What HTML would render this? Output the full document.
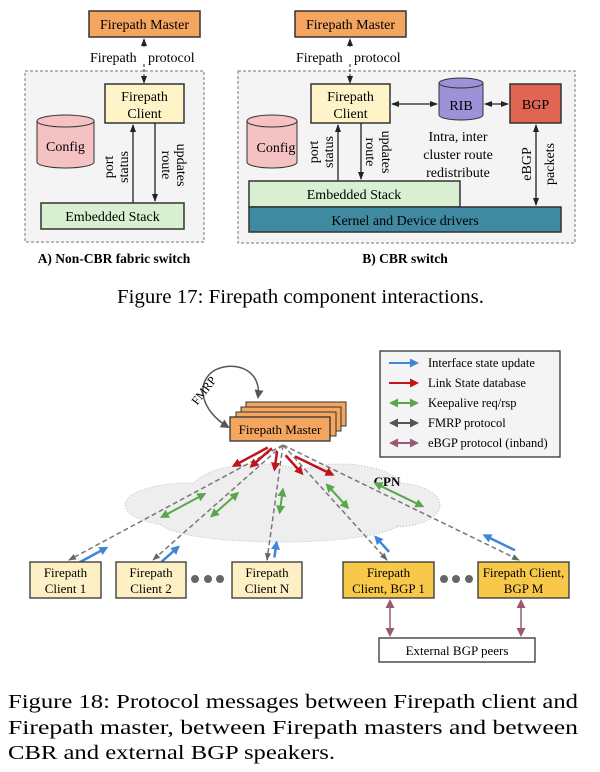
<!DOCTYPE html>
<html><head><meta charset="utf-8"><style>
html,body{margin:0;padding:0;background:#fff;}
svg{display:block;font-family:"Liberation Serif",serif;}
</style></head><body>
<svg id="s" width="600" height="772" viewBox="0 0 600 772" xmlns="http://www.w3.org/2000/svg">
<defs>
<marker id="ak" markerWidth="8" markerHeight="8" refX="7" refY="4" orient="auto-start-reverse" markerUnits="userSpaceOnUse"><path d="M0,1 L8,4 L0,7 z" fill="#222"/></marker>
<marker id="ag" markerWidth="8" markerHeight="8" refX="7" refY="4" orient="auto-start-reverse" markerUnits="userSpaceOnUse"><path d="M0,1 L8,4 L0,7 z" fill="#666"/></marker>
<marker id="ar" markerWidth="9" markerHeight="9" refX="7" refY="4.5" orient="auto-start-reverse" markerUnits="userSpaceOnUse"><path d="M0,0 L9,4.5 L0,9 z" fill="#c0141c"/></marker>
<marker id="ab" markerWidth="9" markerHeight="9" refX="7" refY="4.5" orient="auto-start-reverse" markerUnits="userSpaceOnUse"><path d="M0,0 L9,4.5 L0,9 z" fill="#3f86d8"/></marker>
<marker id="agr" markerWidth="9" markerHeight="9" refX="7" refY="4.5" orient="auto-start-reverse" markerUnits="userSpaceOnUse"><path d="M0,0 L9,4.5 L0,9 z" fill="#5aa64a"/></marker>
<marker id="ap" markerWidth="9" markerHeight="9" refX="7" refY="4.5" orient="auto-start-reverse" markerUnits="userSpaceOnUse"><path d="M0,0 L9,4.5 L0,9 z" fill="#9a5878"/></marker>
<marker id="agy" markerWidth="9" markerHeight="9" refX="7" refY="4.5" orient="auto-start-reverse" markerUnits="userSpaceOnUse"><path d="M0,0 L9,4.5 L0,9 z" fill="#555"/></marker>
</defs>

<!-- ===== Figure 17 A ===== -->
<rect x="25" y="71" width="179" height="171" fill="#f4f4f4" stroke="#777" stroke-dasharray="3,2"/>
<rect x="89" y="11" width="111" height="26" fill="#f4a661" stroke="#333" stroke-width="1.5"/>
<text x="144.5" y="29" font-size="14" text-anchor="middle">Firepath Master</text>
<line x1="144" y1="39" x2="144" y2="83" stroke="#222" stroke-dasharray="3,2" marker-start="url(#ak)" marker-end="url(#ak)"/>
<rect x="88" y="48" width="113" height="16" fill="#fff"/>
<text x="90" y="62" font-size="14">Firepath</text><text x="148" y="62" font-size="14">protocol</text>
<rect x="105" y="84" width="79" height="39" fill="#fff3c8" stroke="#333" stroke-width="1.5"/>
<text x="144.5" y="101" font-size="14" text-anchor="middle">Firepath</text>
<text x="144.5" y="118" font-size="14" text-anchor="middle">Client</text>
<path d="M37,121 L37,162 A28.5,6 0 0 0 94,162 L94,121" fill="#f4c2c2" stroke="#333"/>
<ellipse cx="65.5" cy="121" rx="28.5" ry="6" fill="#f4c2c2" stroke="#333"/>
<text x="65.5" y="151" font-size="14" text-anchor="middle">Config</text>
<line x1="133" y1="203" x2="133" y2="125" stroke="#222" stroke-width="1.3" marker-end="url(#ak)"/>
<line x1="155" y1="123" x2="155" y2="201" stroke="#222" stroke-width="1.3" marker-end="url(#ak)"/>
<text transform="translate(113,167) rotate(-90)" font-size="14" text-anchor="middle">port</text>
<text transform="translate(128,167) rotate(-90)" font-size="14" text-anchor="middle">status</text>
<text transform="translate(162,165) rotate(90)" font-size="14" text-anchor="middle">route</text>
<text transform="translate(177,165) rotate(90)" font-size="14" text-anchor="middle">updates</text>
<rect x="41" y="203" width="143" height="26" fill="#d9efd2" stroke="#333" stroke-width="1.5"/>
<text x="112.5" y="221" font-size="14" text-anchor="middle">Embedded Stack</text>
<text x="114" y="263" font-size="13.5" font-weight="bold" text-anchor="middle">A) Non-CBR fabric switch</text>

<!-- ===== Figure 17 B ===== -->
<rect x="238" y="71" width="337" height="172" fill="#f4f4f4" stroke="#777" stroke-dasharray="3,2"/>
<rect x="295" y="11" width="111" height="26" fill="#f4a661" stroke="#333" stroke-width="1.5"/>
<text x="350.5" y="29" font-size="14" text-anchor="middle">Firepath Master</text>
<line x1="350" y1="39" x2="350" y2="83" stroke="#222" stroke-dasharray="3,2" marker-start="url(#ak)" marker-end="url(#ak)"/>
<rect x="294" y="48" width="113" height="16" fill="#fff"/>
<text x="296" y="62" font-size="14">Firepath</text><text x="354" y="62" font-size="14">protocol</text>
<rect x="311" y="84" width="79" height="39" fill="#fff3c8" stroke="#333" stroke-width="1.5"/>
<text x="350.5" y="101" font-size="14" text-anchor="middle">Firepath</text>
<text x="350.5" y="118" font-size="14" text-anchor="middle">Client</text>
<path d="M439,83 L439,115 A22,5 0 0 0 483,115 L483,83" fill="#9b92d8" stroke="#333"/>
<ellipse cx="461" cy="83" rx="22" ry="5" fill="#9b92d8" stroke="#333"/>
<text x="461" y="110" font-size="14" text-anchor="middle">RIB</text>
<rect x="510" y="84" width="51" height="39" fill="#e06552" stroke="#333" stroke-width="1.5"/>
<text x="535.5" y="109" font-size="14" text-anchor="middle">BGP</text>
<line x1="392" y1="104" x2="437" y2="104" stroke="#222" stroke-width="1.3" marker-start="url(#ak)" marker-end="url(#ak)"/>
<line x1="485" y1="104" x2="508" y2="104" stroke="#222" stroke-width="1.3" marker-start="url(#ak)" marker-end="url(#ak)"/>
<text x="458" y="141" font-size="14" text-anchor="middle">Intra, inter</text>
<text x="458" y="159" font-size="14" text-anchor="middle">cluster route</text>
<text x="458" y="177" font-size="14" text-anchor="middle">redistribute</text>
<path d="M247,121 L247,162 A25,6 0 0 0 297,162 L297,121" fill="#f4c2c2" stroke="#333"/>
<ellipse cx="272" cy="121" rx="25" ry="6" fill="#f4c2c2" stroke="#333"/>
<text x="276" y="152" font-size="14" text-anchor="middle">Config</text>
<line x1="338" y1="181" x2="338" y2="125" stroke="#222" stroke-width="1.3" marker-end="url(#ak)"/>
<line x1="361" y1="123" x2="361" y2="179" stroke="#222" stroke-width="1.3" marker-end="url(#ak)"/>
<text transform="translate(318,152) rotate(-90)" font-size="14" text-anchor="middle">port</text>
<text transform="translate(333,152) rotate(-90)" font-size="14" text-anchor="middle">status</text>
<text transform="translate(366,152) rotate(90)" font-size="14" text-anchor="middle">route</text>
<text transform="translate(382,152) rotate(90)" font-size="14" text-anchor="middle">updates</text>
<line x1="536" y1="125" x2="536" y2="205" stroke="#222" stroke-width="1.3" marker-start="url(#ak)" marker-end="url(#ak)"/>
<text transform="translate(531,164) rotate(-90)" font-size="14" text-anchor="middle">eBGP</text>
<text transform="translate(554,164) rotate(-90)" font-size="14" text-anchor="middle">packets</text>
<rect x="249" y="181" width="211" height="26" fill="#d9efd2" stroke="#333" stroke-width="1.5"/>
<text x="354" y="199" font-size="14" text-anchor="middle">Embedded Stack</text>
<rect x="249" y="207" width="312" height="25" fill="#3f8aa0" stroke="#333" stroke-width="1.5"/>
<text x="405" y="225" font-size="14" text-anchor="middle">Kernel and Device drivers</text>
<text x="405" y="263" font-size="13.5" font-weight="bold" text-anchor="middle">B) CBR switch</text>

<text x="117" y="303" font-size="20" textLength="367" lengthAdjust="spacingAndGlyphs">Figure 17: Firepath component interactions.</text>

<!-- ===== Figure 18 ===== -->
<g id="cloud" fill="#eeeeee" stroke="#bbb" stroke-dasharray="1,2">
<ellipse cx="190" cy="505" rx="65" ry="22"/>
<ellipse cx="260" cy="492" rx="70" ry="28"/>
<ellipse cx="340" cy="492" rx="65" ry="28"/>
<ellipse cx="395" cy="505" rx="45" ry="22"/>
<ellipse cx="280" cy="522" rx="120" ry="20"/>
</g>
<g fill="#eeeeee"><ellipse cx="190" cy="505" rx="63" ry="20"/><ellipse cx="260" cy="492" rx="68" ry="26"/><ellipse cx="340" cy="492" rx="63" ry="26"/><ellipse cx="395" cy="505" rx="43" ry="20"/><ellipse cx="280" cy="522" rx="118" ry="18"/></g>
<text x="387" y="486" font-size="13" font-weight="bold" text-anchor="middle">CPN</text>

<g id="lines"></g>

<rect x="246" y="402" width="100" height="24" fill="#f4a661" stroke="#333"/>
<rect x="241" y="407" width="100" height="24" fill="#f4a661" stroke="#333"/>
<rect x="236" y="412" width="100" height="24" fill="#f4a661" stroke="#333"/>
<rect x="230" y="417" width="100" height="24" fill="#f4a661" stroke="#333" stroke-width="1.3"/>
<text x="280" y="434" font-size="13" text-anchor="middle">Firepath Master</text>
<path d="M258,397 C262,370 235,360 215,370 C195,382 200,410 228,427" fill="none" stroke="#555" stroke-width="1.5" marker-start="url(#agy)" marker-end="url(#agy)"/>
<text transform="translate(207,393) rotate(-52)" font-size="12" text-anchor="middle">FMRP</text>

<g font-size="13" text-anchor="middle">
<rect x="30" y="562" width="71" height="36" fill="#fdf0c4" stroke="#333" stroke-width="1.3"/>
<text x="65.5" y="577">Firepath</text><text x="65.5" y="593">Client 1</text>
<rect x="116" y="562" width="70" height="36" fill="#fdf0c4" stroke="#333" stroke-width="1.3"/>
<text x="151" y="577">Firepath</text><text x="151" y="593">Client 2</text>
<rect x="232" y="562" width="70" height="36" fill="#fdf0c4" stroke="#333" stroke-width="1.3"/>
<text x="267" y="577">Firepath</text><text x="267" y="593">Client N</text>
<rect x="343" y="562" width="91" height="36" fill="#f7c84a" stroke="#333" stroke-width="1.3"/>
<text x="388.5" y="577">Firepath</text><text x="388.5" y="593">Client, BGP 1</text>
<rect x="478" y="562" width="91" height="36" fill="#f7c84a" stroke="#333" stroke-width="1.3"/>
<text x="523.5" y="577">Firepath Client,</text><text x="523.5" y="593">BGP M</text>
<rect x="379" y="638" width="156" height="24" fill="#fff" stroke="#333" stroke-width="1.3"/>
<text x="457" y="655">External BGP peers</text>
</g>
<g fill="#666"><circle cx="195" cy="579" r="4"/><circle cx="208" cy="579" r="4"/><circle cx="220" cy="579" r="4"/>
<circle cx="444" cy="579" r="4"/><circle cx="456" cy="579" r="4"/><circle cx="469" cy="579" r="4"/></g>
<line x1="390" y1="601" x2="390" y2="635" stroke="#9a5878" stroke-width="1.5" marker-start="url(#ap)" marker-end="url(#ap)"/>
<line x1="521" y1="601" x2="521" y2="635" stroke="#9a5878" stroke-width="1.5" marker-start="url(#ap)" marker-end="url(#ap)"/>

<rect x="380" y="351" width="180" height="106" fill="#f4f4f4" stroke="#333" stroke-width="1.3"/>
<g stroke-width="2">
<line x1="389" y1="363" x2="417" y2="363" stroke="#3f86d8" marker-end="url(#ab)"/>
<line x1="389" y1="383" x2="417" y2="383" stroke="#c0141c" marker-end="url(#ar)"/>
<line x1="391" y1="403" x2="417" y2="403" stroke="#5aa64a" marker-start="url(#agr)" marker-end="url(#agr)"/>
<line x1="391" y1="423" x2="417" y2="423" stroke="#555" marker-start="url(#agy)" marker-end="url(#agy)"/>
<line x1="391" y1="443" x2="417" y2="443" stroke="#9a5878" marker-start="url(#ap)" marker-end="url(#ap)"/>
</g>
<g font-size="12.5"><text x="428" y="367">Interface state update</text><text x="428" y="387">Link State database</text>
<text x="428" y="407">Keepalive req/rsp</text><text x="428" y="427">FMRP protocol</text><text x="428" y="447">eBGP protocol (inband)</text></g>

<g font-size="20.5">
<text x="8" y="708" textLength="570" lengthAdjust="spacingAndGlyphs">Figure 18: Protocol messages between Firepath client and</text>
<text x="8" y="734" textLength="570" lengthAdjust="spacingAndGlyphs">Firepath master, between Firepath masters and between</text>
<text x="8" y="759" textLength="327" lengthAdjust="spacingAndGlyphs">CBR and external BGP speakers.</text>
</g>
</svg>
<script>
(function(){
var g=document.getElementById('lines'),NS='http://www.w3.org/2000/svg';
function L(x1,y1,x2,y2,a){var l=document.createElementNS(NS,'line');l.setAttribute('x1',x1);l.setAttribute('y1',y1);l.setAttribute('x2',x2);l.setAttribute('y2',y2);for(var k in a)l.setAttribute(k,a[k]);g.appendChild(l);}
var O=[283,445],T=[[69,560],[153,560],[267,560],[387,560],[519,560]];
T.forEach(function(t){
 var dx=t[0]-O[0],dy=t[1]-O[1],len=Math.hypot(dx,dy),nx=-dy/len,ny=dx/len;
 function P(s,o){return [O[0]+dx*s+nx*o,O[1]+dy*s+ny*o];}
 L(O[0],O[1],t[0],t[1],{stroke:'#777','stroke-width':1.5,'stroke-dasharray':'5,3','marker-end':'url(#ag)'});
 var a=P(0.06,5),b=P(0.22,5);L(a[0],a[1],b[0],b[1],{stroke:'#c0141c','stroke-width':2.5,'marker-end':'url(#ar)'});
 a=P(0.38,-6);b=P(0.58,-6);L(a[0],a[1],b[0],b[1],{stroke:'#5aa64a','stroke-width':2,'marker-start':'url(#agr)','marker-end':'url(#agr)'});
 a=P(0.97,-7);b=P(0.84,-7);L(a[0],a[1],b[0],b[1],{stroke:'#3f86d8','stroke-width':2.5,'marker-end':'url(#ab)'});
});
})();
</script>
</body></html>
